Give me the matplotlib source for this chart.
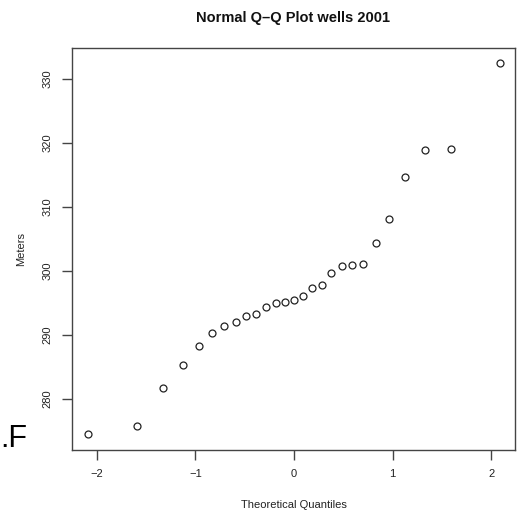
import matplotlib
matplotlib.use("Agg")
from matplotlib import pyplot as plt

plt.rcParams['font.family'] = ['Liberation Sans', 'DejaVu Sans']

# theoretical normal quantiles for n = 27 points
theoretical = [-2.086, -1.593, -1.325, -1.128, -0.967, -0.828, -0.704, -0.589, -0.482,
               -0.380, -0.282, -0.187, -0.093, 0.0, 0.093, 0.187, 0.282, 0.380,
               0.482, 0.589, 0.704, 0.828, 0.967, 1.128, 1.325, 1.593, 2.086]
meters = [274.5, 275.7, 281.6, 285.3, 288.2, 290.2, 291.3, 292.0, 293.0,
          293.3, 294.4, 295.0, 295.1, 295.5, 296.0, 297.3, 297.8, 299.6,
          300.7, 300.9, 301.1, 304.3, 308.1, 314.7, 318.9, 319.0, 332.5]
x_ticks = [-2, -1, 0, 1, 2]
y_ticks = [280, 290, 300, 310, 320, 330]

fig = plt.figure(figsize=(5.29, 5.12), dpi=100)
ax = fig.add_axes([0.136, 0.121, 0.8375, 0.785])

ax.plot(theoretical, meters, 'o', markersize=5, markerfacecolor='none',
        markeredgecolor='#222222', markeredgewidth=0.9)

ax.set_xlim(-2.25, 2.24)
ax.set_ylim(271.97, 334.8)
ax.set_xticks(x_ticks)
ax.set_yticks(y_ticks)
ax.set_yticklabels([str(v) for v in y_ticks], rotation=90, va='center')

for s in ax.spines.values():
    s.set_color('#444444')
    s.set_linewidth(1.0)
ax.tick_params(axis='both', length=7, width=1.0, color='#444444',
               labelsize=8, labelcolor='#222222', pad=7)

ax.set_xlabel("Theoretical Quantiles", fontsize=8, color='#222222', labelpad=15)
ax.set_ylabel("Meters", fontsize=8, color='#222222', labelpad=12)
ax.set_title("Normal Q\u2013Q Plot wells 2001", fontsize=10.5, fontweight='bold',
             color='#111111', pad=19)

fig.text(0.0, 0.127, ".F", fontsize=22, color='black', ha='left', va='baseline')

fig.savefig("out.png", dpi=100)
